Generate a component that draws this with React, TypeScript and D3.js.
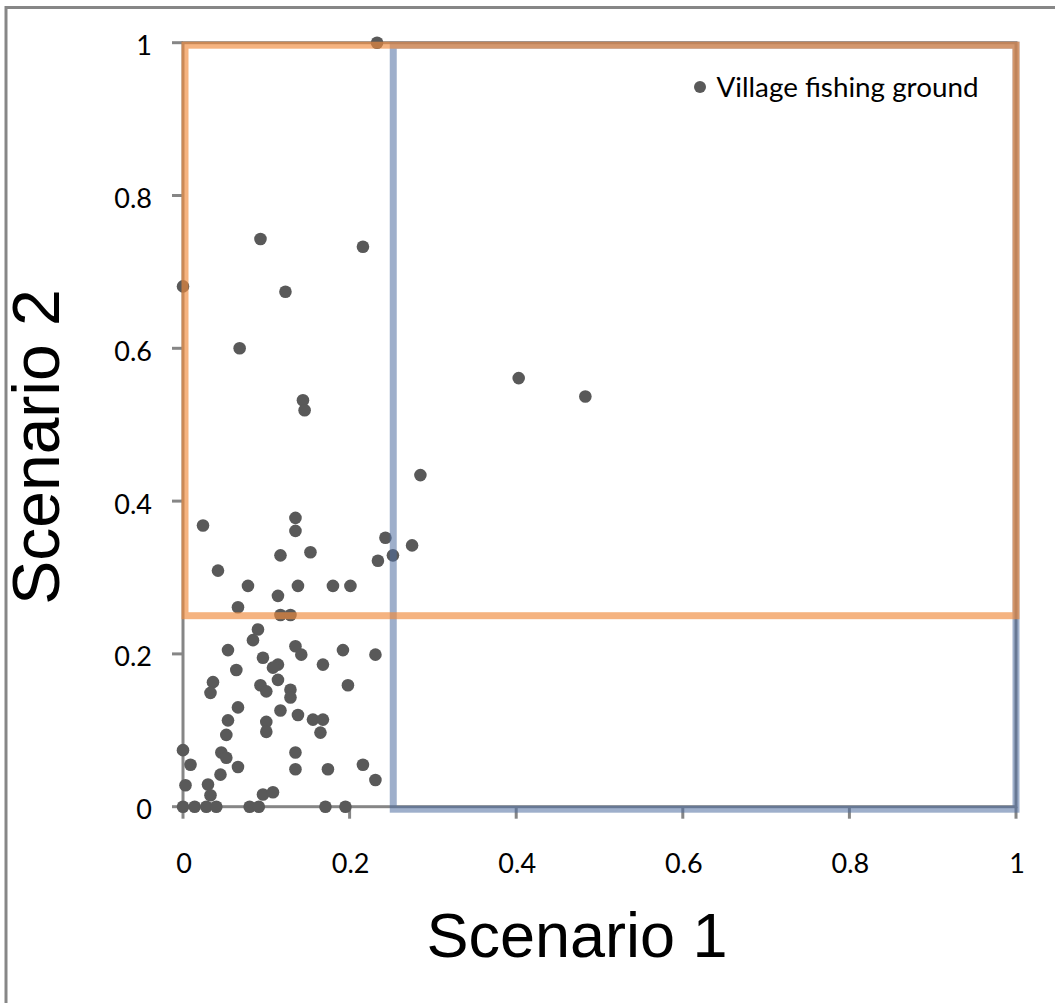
import React from "react";
import * as d3 from "d3";

const scenario1: number[] = [
  0.233, 0, 0.093, 0.216, 0.123, 0.068, 0.144, 0.146, 0.403, 0.483, 0.285,
  0.024, 0.135, 0.135, 0.243, 0.275, 0.252, 0.234, 0.117, 0.153, 0.042, 0.078, 0.138, 0.18, 0.201, 0.114, 0.066,
  0.117, 0.129, 0.09, 0.084, 0.054, 0.135, 0.142, 0.192, 0.231, 0.096, 0.114, 0.108, 0.168, 0.064, 0.114, 0.036,
  0.033, 0.093, 0.1, 0.198, 0.129, 0.129, 0.066, 0.117, 0.138, 0.156, 0.168, 0.165, 0.054, 0.052, 0.1, 0.1,
  0, 0.046, 0.052, 0.009, 0.066, 0.135, 0.135, 0.174, 0.216, 0.231, 0.045, 0.003, 0.03, 0.033, 0.096, 0.108,
  0, 0.014, 0.028, 0.04, 0.08, 0.091, 0.171, 0.195,
];
const scenario2: number[] = [
  1.0, 0.681, 0.743, 0.733, 0.674, 0.6, 0.532, 0.519, 0.561, 0.537, 0.434,
  0.368, 0.378, 0.361, 0.352, 0.342, 0.329, 0.322, 0.329, 0.333, 0.309, 0.289, 0.289, 0.289, 0.289, 0.276, 0.261,
  0.251, 0.251, 0.232, 0.218, 0.205, 0.21, 0.199, 0.205, 0.199, 0.195, 0.186, 0.182, 0.186, 0.179, 0.166, 0.163,
  0.149, 0.159, 0.151, 0.159, 0.153, 0.143, 0.13, 0.126, 0.12, 0.114, 0.114, 0.097, 0.113, 0.094, 0.111, 0.098,
  0.074, 0.071, 0.064, 0.055, 0.052, 0.071, 0.049, 0.049, 0.055, 0.035, 0.042, 0.028, 0.029, 0.015, 0.016, 0.019,
  0, 0, 0, 0, 0, 0, 0, 0,
];
const tickValues: number[] = [0, 0.2, 0.4, 0.6, 0.8, 1];
const tickLabels: string[] = ["0", "0.2", "0.4", "0.6", "0.8", "1"];
const seriesName = "Village fishing ground";
const xTitle = "Scenario 1";
const yTitle = "Scenario 2";
// threshold zones: [x0, y0, x1, y1]
const orangeZone: number[] = [0, 0.25, 1, 1];
const blueZone: number[] = [0.25, 0, 1, 1];

export default function App() {
  const W = 1055;
  const H = 1003;
  const x = d3.scaleLinear().domain([0, 1]).range([183, 1016]);
  const y = d3.scaleLinear().domain([0, 1]).range([806.7, 42.7]);
  const points = scenario1.map((v, i) => ({ x: v, y: scenario2[i] }));
  const gray = "#868686";
  const tickFont = "Lato, 'Open Sans', sans-serif";

  return (
    <svg
      width={W}
      height={H}
      style={{ position: "absolute", left: 0, top: 0, background: "#fff" }}
    >
      <rect x={0} y={0} width={W} height={H} fill="#fff" />
      {/* outer chart border */}
      <rect x={6} y={7.5} width={W + 20} height={H + 20} fill="none" stroke="#878787" strokeWidth={3} />

      {/* plot frame */}
      <rect
        x={x(0)}
        y={y(1)}
        width={x(1) - x(0)}
        height={y(0) - y(1)}
        fill="none"
        stroke={gray}
        strokeWidth={3}
      />
      {/* ticks */}
      {tickValues.map((t, i) => (
        <g key={"yt" + i}>
          <line x1={x(0) - 11} x2={x(0)} y1={y(t)} y2={y(t)} stroke={gray} strokeWidth={3} />
          <text
            x={152}
            y={y(t) + 12.5}
            textAnchor="end"
            fontFamily={tickFont}
            fontSize={27}
            fill="#000"
          >
            {tickLabels[i]}
          </text>
        </g>
      ))}
      {tickValues.map((t, i) => (
        <g key={"xt" + i}>
          <line x1={x(t)} x2={x(t)} y1={y(0)} y2={y(0) + 12} stroke={gray} strokeWidth={3} />
          <text
            x={x(t) + 1}
            y={873}
            textAnchor="middle"
            fontFamily={tickFont}
            fontSize={27}
            fill="#000"
          >
            {tickLabels[i]}
          </text>
        </g>
      ))}

      {/* data points */}
      {points.map((p, i) => (
        <circle key={"p" + i} cx={x(p.x)} cy={y(p.y)} r={6.3} fill="#595959" />
      ))}

      {/* zone rectangles: blue beneath, orange on top */}
      <rect
        x={x(blueZone[0]) + 2}
        y={y(blueZone[3]) + 2.5}
        width={x(blueZone[2]) - x(blueZone[0]) - 2}
        height={y(blueZone[1]) - y(blueZone[3])}
        fill="none"
        stroke="#4F6EA0"
        strokeOpacity={0.55}
        strokeWidth={7}
      />
      <rect
        x={x(orangeZone[0]) + 2}
        y={y(orangeZone[3]) + 2.5}
        width={x(orangeZone[2]) - x(orangeZone[0]) - 2}
        height={y(orangeZone[1]) - y(orangeZone[3]) - 2.5}
        fill="none"
        stroke="#F08A3C"
        strokeOpacity={0.65}
        strokeWidth={7}
      />

      {/* legend */}
      <circle cx={700} cy={87} r={6} fill="#595959" />
      <text x={716.5} y={96.7} fontFamily={tickFont} fontSize={27.8} fill="#000">
        {seriesName}
      </text>

      {/* axis titles */}
      <text
        x={577}
        y={956.7}
        textAnchor="middle"
        fontFamily="'Liberation Sans', Arial, sans-serif"
        fontSize={63}
        fill="#000"
      >
        {xTitle}
      </text>
      <text
        transform={`translate(59,447) rotate(-90)`}
        textAnchor="middle"
        fontFamily="'Liberation Sans', Arial, sans-serif"
        fontSize={66}
        fill="#000"
      >
        {yTitle}
      </text>
    </svg>
  );
}
